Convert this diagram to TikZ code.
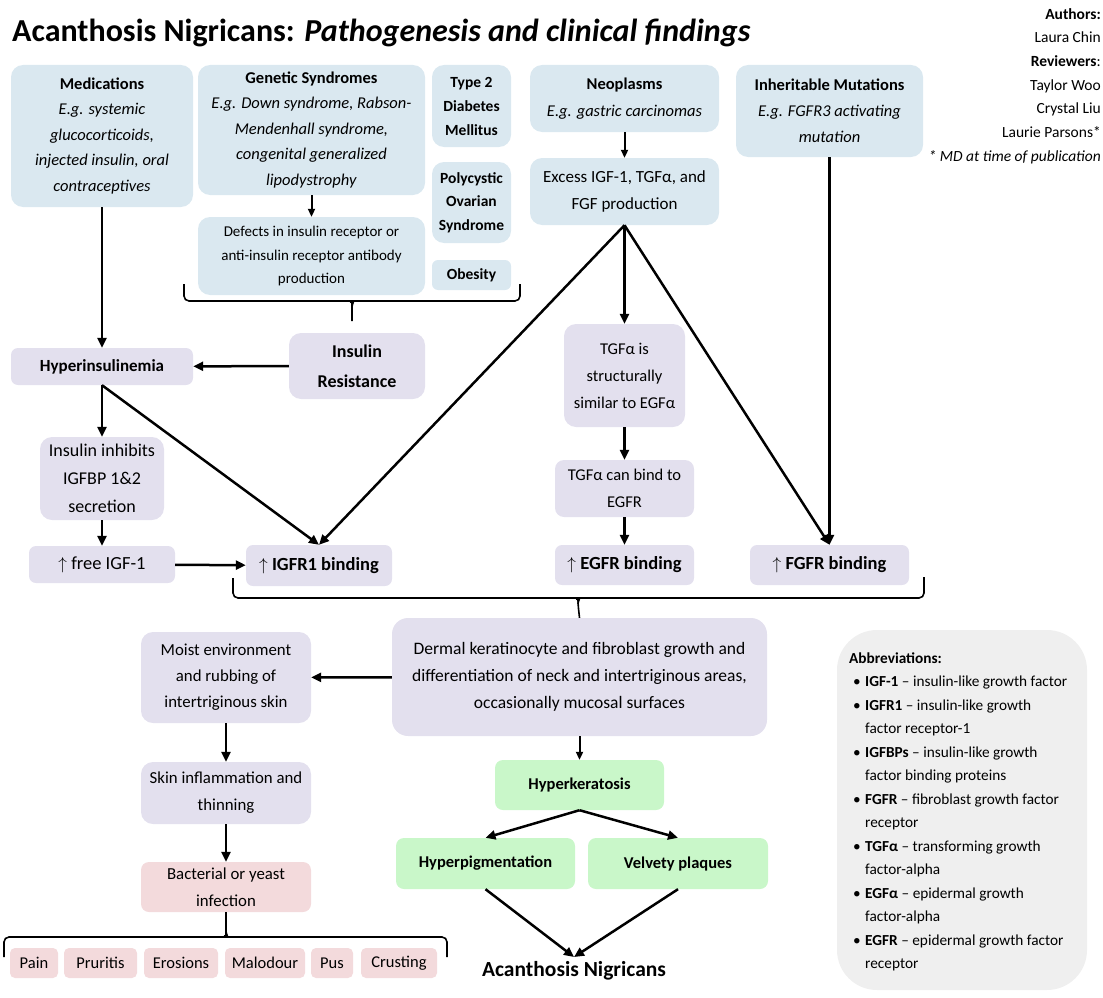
\documentclass[tikz,border=0pt]{standalone}
\usepackage{fontspec}
\setmainfont{Carlito}
\usepackage{tikz}
\usetikzlibrary{arrows.meta}
\def\tam#1#2{\fontsize{#1}{#2}\selectfont}
\definecolor{azul}{HTML}{DAE8F0}
\definecolor{lila}{HTML}{E3E0EE}
\definecolor{rosa}{HTML}{F3DADC}
\definecolor{verde}{HTML}{C9F7C9}
\definecolor{gris}{HTML}{EFEFEF}

\begin{document}
\begin{tikzpicture}[
	x = 1pt, y = -1pt,
	caja/.style = {rounded corners = 12pt, inner sep = 0pt, align = center},
	flecha/.style = {line width = 2.5pt, -{Triangle[length = 10pt, width = 9pt]}},
	flechita/.style = {line width = 2pt, -{Triangle[length = 8pt, width = 7pt]}},
	llave/.style = {line width = 1.6pt},
]

	% márgenes del dibujo
	\useasboundingbox (0,0) rectangle (1103,998);

	% título y autores
	\node[anchor = base west, inner sep = 0pt, font = \tam{32}{38}\bfseries] (titulo)
		at (12,42) {Acanthosis Nigricans: \textit{Pathogenesis and clinical findings}};
	\node[anchor = north east, align = right, inner sep = 0pt, font = \tam{15.5}{23.7}] (autores)
		at (1101,8) {\textbf{Authors:}\\ Laura Chin\\ \textbf{Reviewers}:\\ Taylor Woo\\
		Crystal Liu\\ Laurie Parsons*\\ \textit{* MD at time of publication}};

	% causas
	\node[caja, fill = azul, minimum width = 182pt, minimum height = 142pt, font = \tam{16.5}{25.5}] (med)
		at (102,136) {\textbf{Medications}\\ \textit{E.g. systemic}\\ \textit{glucocorticoids,}\\
		\textit{injected insulin, oral}\\ \textit{contraceptives}};
	\node[caja, fill = azul, minimum width = 227pt, minimum height = 130pt, font = \tam{16.5}{25.5}] (gen)
		at (311.5,130) {\textbf{Genetic Syndromes}\\ \textit{E.g. Down syndrome, Rabson-}\\
		\textit{Mendenhall syndrome,}\\ \textit{congenital generalized}\\ \textit{lipodystrophy}};
	\node[caja, fill = azul, minimum width = 227pt, minimum height = 78pt, font = \tam{15}{23.5}] (defects)
		at (311.5,256) {Defects in insulin receptor or\\ anti-insulin receptor antibody\\ production};
	\node[caja, fill = azul, minimum width = 79pt, minimum height = 82pt, font = \tam{15.5}{24}\bfseries] (t2dm)
		at (471.5,106) {Type 2\\ Diabetes\\ Mellitus};
	\node[caja, fill = azul, minimum width = 79pt, minimum height = 81pt, font = \tam{15.5}{23.5}\bfseries] (pcos)
		at (471.5,202.5) {Polycystic\\ Ovarian\\ Syndrome};
	\node[caja, fill = azul, rounded corners = 6pt, minimum width = 79pt, minimum height = 30pt,
		font = \tam{15.5}{20}\bfseries] (obes) at (471.5,275) {Obesity};
	\node[caja, fill = azul, minimum width = 189pt, minimum height = 67pt, font = \tam{16.5}{27}] (neo)
		at (624.5,98.5) {\textbf{Neoplasms}\\ \textit{E.g. gastric carcinomas}};
	\node[caja, fill = azul, minimum width = 189pt, minimum height = 67pt, font = \tam{17}{27}] (excess)
		at (624.5,191.5) {Excess IGF-1, TGFα, and\\ FGF production};
	\node[caja, fill = azul, minimum width = 187pt, minimum height = 92pt, font = \tam{16.5}{26}] (inherit)
		at (829.5,111) {\textbf{Inheritable Mutations}\\ \textit{E.g. FGFR3 activating}\\ \textit{mutation}};

	% mecanismos
	\node[caja, fill = lila, rounded corners = 7pt, minimum width = 182pt, minimum height = 37pt,
		font = \tam{17}{22}\bfseries] (hyper) at (102,366.5) {Hyperinsulinemia};
	\node[caja, fill = lila, minimum width = 136pt, minimum height = 66pt, font = \tam{18}{30}\bfseries] (ir)
		at (357,366) {Insulin\\ Resistance};
	\node[caja, fill = lila, minimum width = 124pt, minimum height = 83pt, font = \tam{18}{28}] (inhib)
		at (102,478.5) {Insulin inhibits\\ IGFBP 1\&2\\ secretion};
	\node[caja, fill = lila, rounded corners = 7pt, minimum width = 146pt, minimum height = 37pt,
		font = \tam{18.5}{22}] (free) at (102,564.5) {$\uparrow$ free IGF-1};
	\node[caja, fill = lila, rounded corners = 7pt, minimum width = 146pt, minimum height = 41pt,
		font = \tam{18.5}{22}\bfseries] (igfr) at (319,565.5) {$\uparrow$ IGFR1 binding};
	\node[caja, fill = lila, minimum width = 121pt, minimum height = 103pt, font = \tam{16.5}{27}] (tgfsim)
		at (624.5,375.5) {TGFα is\\ structurally\\ similar to EGFα};
	\node[caja, fill = lila, rounded corners = 9pt, minimum width = 139pt, minimum height = 57pt,
		font = \tam{16.5}{27}] (tgfbind) at (624.5,488.5) {TGFα can bind to\\ EGFR};
	\node[caja, fill = lila, rounded corners = 7pt, minimum width = 139pt, minimum height = 40pt,
		font = \tam{18.5}{22}\bfseries] (egfr) at (624.5,565) {$\uparrow$ EGFR binding};
	\node[caja, fill = lila, rounded corners = 7pt, minimum width = 159pt, minimum height = 40pt,
		font = \tam{18.5}{22}\bfseries] (fgfr) at (829.5,565) {$\uparrow$ FGFR binding};
	\node[caja, fill = lila, rounded corners = 16pt, minimum width = 375pt, minimum height = 118pt,
		font = \tam{17.5}{27}] (dermal) at (579.5,677) {Dermal keratinocyte and fibroblast growth and\\
		differentiation of neck and intertriginous areas,\\ occasionally mucosal surfaces};
	\node[caja, fill = lila, minimum width = 170pt, minimum height = 91pt, font = \tam{16.8}{26}] (moist)
		at (226,677.5) {Moist environment\\ and rubbing of\\ intertriginous skin};
	\node[caja, fill = lila, minimum width = 170pt, minimum height = 62pt, font = \tam{16.8}{27}] (skin)
		at (226,793) {Skin inflammation and\\ thinning};

	% complicaciones
	\node[caja, fill = rosa, rounded corners = 8pt, minimum width = 170pt, minimum height = 50pt,
		font = \tam{16.8}{27}] (bact) at (226,887) {Bacterial or yeast\\ infection};
	\foreach \x/\w/\nom/\txt in {34/48/pain/Pain, 100.5/73/prur/Pruritis, 181/74/eros/Erosions,
		265/80/malo/Malodour, 332/42/pus/Pus, 399/76/crust/Crusting}
		\node[caja, fill = rosa, rounded corners = 5pt, minimum width = \w pt, minimum height = 30pt,
			font = \tam{16.5}{20}] (\nom) at (\x,963) {\txt};

	% hallazgos clínicos
	\node[caja, fill = verde, rounded corners = 8pt, minimum width = 169pt, minimum height = 50pt,
		font = \tam{16.5}{20}\bfseries] (hk) at (579.5,785) {Hyperkeratosis};
	\node[caja, fill = verde, rounded corners = 8pt, minimum width = 179pt, minimum height = 51pt,
		font = \tam{16.5}{20}\bfseries] (hpig) at (485.5,863.5) {Hyperpigmentation};
	\node[caja, fill = verde, rounded corners = 8pt, minimum width = 180pt, minimum height = 51pt,
		font = \tam{16.5}{20}\bfseries] (velv) at (678,863.5) {Velvety plaques};
	\node[anchor = north, inner xsep = 0pt, inner ysep = 4pt, font = \tam{21.5}{26}\bfseries] (acan)
		at (574,957) {Acanthosis Nigricans};

	% abreviaturas
	\node[fill = gris, rounded corners = 40pt, minimum width = 250pt, minimum height = 360pt] (abrev)
		at (962,810) {};
	\node[anchor = west, align = left, inner sep = 0pt, font = \tam{15.3}{23.5}] (abrevtxt)
		at (849,812) {\textbf{Abbreviations:}\\
		\hspace*{4pt}\makebox[12pt][l]{•}\textbf{IGF-1} – insulin-like growth factor\\
		\hspace*{4pt}\makebox[12pt][l]{•}\textbf{IGFR1} – insulin-like growth\\
		\hspace*{16pt}factor receptor-1\\
		\hspace*{4pt}\makebox[12pt][l]{•}\textbf{IGFBPs} – insulin-like growth\\
		\hspace*{16pt}factor binding proteins\\
		\hspace*{4pt}\makebox[12pt][l]{•}\textbf{FGFR} – fibroblast growth factor\\
		\hspace*{16pt}receptor\\
		\hspace*{4pt}\makebox[12pt][l]{•}\textbf{TGFα} – transforming growth\\
		\hspace*{16pt}factor-alpha\\
		\hspace*{4pt}\makebox[12pt][l]{•}\textbf{EGFα} – epidermal growth\\
		\hspace*{16pt}factor-alpha\\
		\hspace*{4pt}\makebox[12pt][l]{•}\textbf{EGFR} – epidermal growth factor\\
		\hspace*{16pt}receptor};

	% flechas
	\draw[flechita] (gen) -- (defects);
	\draw[flechita] (neo) -- (excess);
	\draw[flecha] (med) -- (hyper);
	\draw[flecha] (ir) -- (hyper);
	\draw[flecha] (hyper) -- (inhib);
	\draw[flecha] (inhib) -- (free);
	\draw[flecha] (free) -- (igfr);
	\draw[flecha] (hyper.south) -- (igfr.north);
	\draw[flecha] (excess.south) -- (igfr.north);
	\draw[flecha] (excess.south) -- (tgfsim.north);
	\draw[flecha] (excess.south) -- (fgfr.north);
	\draw[flecha] (inherit) -- (fgfr);
	\draw[flecha] (tgfsim) -- (tgfbind);
	\draw[flecha] (tgfbind) -- (egfr);
	\draw[flecha] (dermal) -- (moist);
	\draw[flecha] (moist) -- (skin);
	\draw[flecha] (skin) -- (bact);
	\draw[flechita] (dermal) -- (hk);
	\draw[flecha] (hk.south) -- (hpig.north);
	\draw[flecha] (hk.south) -- (velv.north);
	\draw[flecha] (hpig.south) -- (acan.north);
	\draw[flecha] (velv.south) -- (acan.north);

	% llaves
	\draw[llave, rounded corners = 5pt] (184,284) |- (346,301) to[out = 0, in = 90] (352,307) -- (352,321);
	\draw[llave, rounded corners = 5pt] (520,284) |- (358,301) to[out = 180, in = 90] (352,307);

	\draw[llave, rounded corners = 5pt] (233,578) |- (572,598) to[out = 0, in = 90] (578,604) -- (dermal.north);
	\draw[llave, rounded corners = 5pt] (924,577) |- (584,598) to[out = 180, in = 90] (578,604);

	\draw[llave, rounded corners = 5pt] (4,957) |- (220,937) to[out = 0, in = -90] (226,931) -- (bact.south);
	\draw[llave, rounded corners = 5pt] (447,957) |- (232,937) to[out = 180, in = -90] (226,931);

\end{tikzpicture}
\end{document}
